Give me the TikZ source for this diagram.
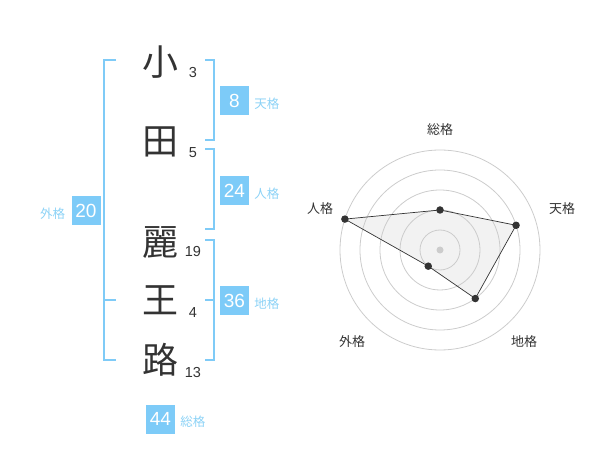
\documentclass[tikz,border=0pt]{standalone}
\usepackage{fontspec}
\setmainfont{Noto Sans CJK JP}
\newfontfamily\numfont{Liberation Sans}
\definecolor{skyline}{HTML}{7FCBF7}
\definecolor{skybox}{HTML}{7DCBF8}
\definecolor{skytext}{HTML}{8CD2F6}
\definecolor{inkgray}{HTML}{333333}
\begin{document}
\begin{tikzpicture}[x=1pt, y=-1pt]
    \tikzstyle{kanji} = [text=inkgray, font=\fontsize{36}{36}\selectfont, inner sep=0pt]
    \tikzstyle{strokes} = [text=inkgray, font=\numfont\fontsize{14.5}{14.5}\selectfont, inner sep=0pt]
    \tikzstyle{bracket} = [color=skyline, line width=2pt]
    \tikzstyle{score} = [fill=skybox, text=white, minimum size=29pt, inner sep=0pt, font=\numfont\fontsize{19}{19}\selectfont]
    \tikzstyle{kaku} = [text=skytext, font=\fontsize{12.5}{12.5}\selectfont, inner sep=0pt]
    \tikzstyle{ring} = [color=black!20, line width=0.8pt]
    \tikzstyle{axis label} = [text=inkgray, font=\fontsize{13}{13}\selectfont, inner sep=0pt]
    \tikzstyle{dot} = [circle, fill=inkgray, inner sep=0pt, minimum size=7.5pt]
    \useasboundingbox (0, 0) rectangle (600, 470);
    % name, top to bottom
    \node[kanji] (c1) at (160, 62) {小};
    \node[kanji] (c2) at (160, 142) {田};
    \node[kanji] (c3) at (160, 243) {麗};
    \node[kanji] (c4) at (160, 300) {王};
    \node[kanji] (c5) at (160, 360) {路};
    \node[strokes] (n1) at (193, 73) {3};
    \node[strokes] (n2) at (193, 153) {5};
    \node[strokes] (n3) at (193, 252) {19};
    \node[strokes] (n4) at (193, 313) {4};
    \node[strokes] (n5) at (193, 373) {13};
    % brackets
    \draw[bracket] (116, 60) -- (104, 60) -- (104, 360) -- (116, 360);
    \draw[bracket] (104, 300) -- (116, 300);
    \draw[bracket] (205, 60) -- (214, 60) -- (214, 140) -- (205, 140);
    \draw[bracket] (205, 149) -- (214, 149) -- (214, 229) -- (205, 229);
    \draw[bracket] (205, 240) -- (214, 240) -- (214, 360) -- (205, 360);
    \draw[bracket] (205, 300) -- (214, 300);
    % scores
    \node[score] (ten) at (234.5, 100.5) {8};
    \node[score] (jin) at (234.5, 190.5) {24};
    \node[score] (chi) at (234.5, 300.5) {36};
    \node[score] (gai) at (86, 210.5) {20};
    \node[score] (sou) at (160.5, 419) {44};
    \node[kaku, anchor=west] (tenl) at ([xshift=5pt, yshift=-3pt]ten.east) {天格};
    \node[kaku, anchor=west] (jinl) at ([xshift=5pt, yshift=-3pt]jin.east) {人格};
    \node[kaku, anchor=west] (chil) at ([xshift=5pt, yshift=-3pt]chi.east) {地格};
    \node[kaku, anchor=east] (gail) at ([xshift=-6pt, yshift=-3pt]gai.west) {外格};
    \node[kaku, anchor=west] (soul) at ([xshift=5pt, yshift=-3pt]sou.east) {総格};
    % radar
    \coordinate (ctr) at (440, 250);
    \coordinate (p1) at ([shift={(-90:40)}]ctr);
    \coordinate (p2) at ([shift={(-18:80)}]ctr);
    \coordinate (p3) at ([shift={(54:60)}]ctr);
    \coordinate (p4) at ([shift={(126:20)}]ctr);
    \coordinate (p5) at ([shift={(198:100)}]ctr);
    \fill[black!5] (p1) -- (p2) -- (p3) -- (p4) -- (p5) -- cycle;
    \foreach \r in {20, 40, 60, 80, 100}
        \draw[ring] (ctr) circle[radius=\r];
    \fill[black!20] (ctr) circle[radius=3.5];
    \draw[inkgray, line width=0.7pt] (p1) -- (p2) -- (p3) -- (p4) -- (p5) -- cycle;
    \foreach \p in {p1, p2, p3, p4, p5}
        \node[dot] at (\p) {};
    \node[axis label] (a1) at (440, 130) {総格};
    \node[axis label] (a2) at (562, 209) {天格};
    \node[axis label] (a3) at (524, 342) {地格};
    \node[axis label] (a4) at (352, 342) {外格};
    \node[axis label] (a5) at (320, 209) {人格};
\end{tikzpicture}
\end{document}
